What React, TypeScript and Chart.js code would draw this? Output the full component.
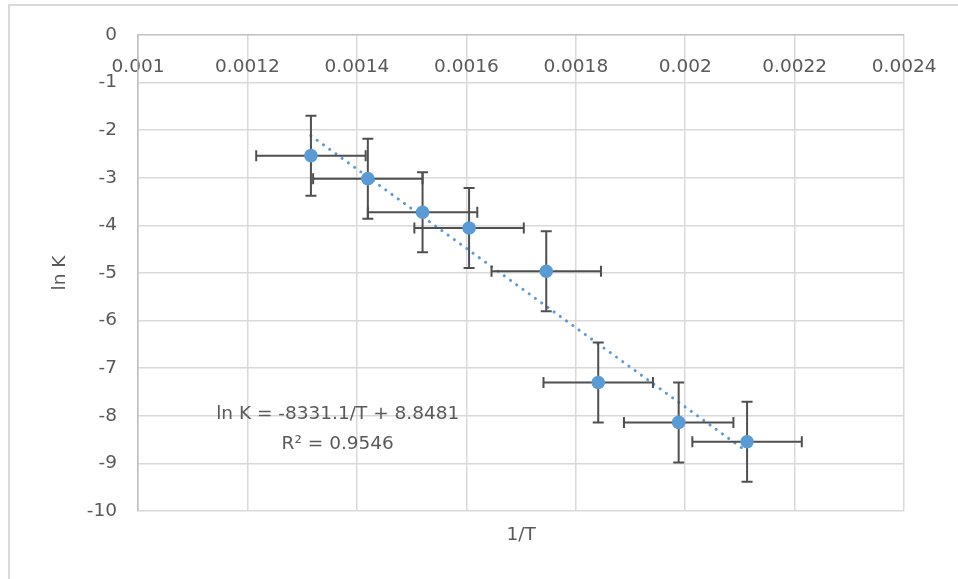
import React, { useEffect, useRef } from "react";
import { Chart, registerables } from "chart.js";

Chart.register(...registerables);

// ---- data ----
const invT = [0.001316, 0.00142, 0.00152, 0.001605, 0.001746, 0.001841, 0.001988, 0.002113];
const lnK = [-2.535, -3.018, -3.725, -4.054, -4.963, -7.3, -8.139, -8.545];
const invTErr = [0.0001, 0.0001, 0.0001, 0.0001, 0.0001, 0.0001, 0.0001, 0.0001];
const lnKErr = [0.84, 0.84, 0.84, 0.84, 0.84, 0.84, 0.84, 0.84];
const xTickValues = [0.001, 0.0012, 0.0014, 0.0016, 0.0018, 0.002, 0.0022, 0.0024];
const xTickLabels = ["0.001", "0.0012", "0.0014", "0.0016", "0.0018", "0.002", "0.0022", "0.0024"];
const trendSlope = -8331.1;
const trendIntercept = 8.8481;
const equationLines = ["ln K = -8331.1/T + 8.8481", "R\u00B2 = 0.9546"];

const FONT = "'DejaVu Sans', sans-serif";
const FS = 18.5;
const TEXT = "#595959";
const GRID = "#d9d9d9";
const AXIS = "#bfbfbf";

const trendX0 = Math.min(...invT);
const trendX1 = Math.max(...invT);
const trendData = [
  { x: trendX0, y: trendSlope * trendX0 + trendIntercept },
  { x: trendX1, y: trendSlope * trendX1 + trendIntercept },
];

const errorBarPlugin = {
  id: "errorBars",
  beforeDatasetDraw(chart: any, args: any) {
    if (args.index !== 0) return;
    const { ctx } = chart;
    const xs = chart.scales.x;
    const ys = chart.scales.y;
    const cap = 5.5;
    ctx.save();
    ctx.strokeStyle = "#4f4f4f";
    ctx.lineWidth = 2;
    for (let i = 0; i < invT.length; i++) {
      const px = xs.getPixelForValue(invT[i]);
      const py = ys.getPixelForValue(lnK[i]);
      const xl = xs.getPixelForValue(invT[i] - invTErr[i]);
      const xr = xs.getPixelForValue(invT[i] + invTErr[i]);
      const yt = ys.getPixelForValue(lnK[i] + lnKErr[i]);
      const yb = ys.getPixelForValue(lnK[i] - lnKErr[i]);
      ctx.beginPath();
      ctx.moveTo(xl, py);
      ctx.lineTo(xr, py);
      ctx.moveTo(xl, py - cap);
      ctx.lineTo(xl, py + cap);
      ctx.moveTo(xr, py - cap);
      ctx.lineTo(xr, py + cap);
      ctx.moveTo(px, yt);
      ctx.lineTo(px, yb);
      ctx.moveTo(px - cap, yt);
      ctx.lineTo(px + cap, yt);
      ctx.moveTo(px - cap, yb);
      ctx.lineTo(px + cap, yb);
      ctx.stroke();
    }
    ctx.restore();
  },
};

const equationPlugin = {
  id: "equation",
  afterDraw(chart: any) {
    const { ctx } = chart;
    const xs = chart.scales.x;
    const ys = chart.scales.y;
    const cx = xs.getPixelForValue(0.001365);
    const y1 = ys.getPixelForValue(-7.96);
    const y2 = ys.getPixelForValue(-8.59);
    ctx.save();
    ctx.font = `${FS}px ${FONT}`;
    ctx.fillStyle = TEXT;
    ctx.textAlign = "center";
    ctx.textBaseline = "middle";
    ctx.fillText(equationLines[0], cx, y1);
    ctx.fillText(equationLines[1], cx, y2);
    ctx.restore();
  },
};

export default function App() {
  const ref = useRef<HTMLCanvasElement>(null);

  useEffect(() => {
    if (!ref.current) return;
    const chart = new Chart(ref.current, {
      type: "scatter",
      data: {
        datasets: [
          {
            label: "ln K",
            data: invT.map((x, i) => ({ x, y: lnK[i] })),
            backgroundColor: "#5B9BD5",
            borderColor: "#5B9BD5",
            borderWidth: 0,
            pointRadius: 6.8,
            showLine: false,
          },
          {
            label: "trend",
            type: "line",
            data: trendData,
            borderColor: "#5B9BD5",
            borderWidth: 3,
            borderDash: [0.1, 7.6],
            borderCapStyle: "round",
            pointRadius: 0,
            fill: false,
          } as any,
        ],
      },
      plugins: [errorBarPlugin, equationPlugin],
      options: {
        responsive: false,
        animation: false,
        events: [],
        layout: { padding: { left: 0, top: 35, right: 50, bottom: 0 } },
        plugins: { legend: { display: false }, tooltip: { enabled: false } },
        font: { family: FONT, size: FS },
        scales: {
          x: {
            type: "linear",
            position: "bottom",
            min: 0.001,
            max: 0.0024,
            afterBuildTicks: (s: any) => {
              s.ticks = xTickValues.map((v) => ({ value: v }));
            },
            afterFit: (s: any) => {
              s.height = 68;
            },
            ticks: { display: false },
            grid: { color: GRID, lineWidth: 1.5, drawTicks: false },
            border: { display: false },
            title: {
              display: true,
              text: "1/T",
              color: TEXT,
              font: { family: FONT, size: FS },
              padding: { top: 0, bottom: 33 },
            },
          },
          xTop: {
            type: "linear",
            position: { y: 0 } as any,
            min: 0.001,
            max: 0.0024,
            afterBuildTicks: (s: any) => {
              s.ticks = xTickValues.map((v) => ({ value: v }));
            },
            ticks: {
              color: TEXT,
              font: { family: FONT, size: FS },
              padding: 21.5,
              maxRotation: 0,
              autoSkip: false,
              callback: (_v: any, i: number) => xTickLabels[i],
            },
            grid: { display: false, drawTicks: false },
            border: { display: false },
          },
          y: {
            type: "linear",
            position: "left",
            min: -10,
            max: 0,
            ticks: {
              stepSize: 1,
              color: TEXT,
              font: { family: FONT, size: FS },
              padding: 21,
            },
            afterFit: (s: any) => {
              s.width = 138;
            },
            grid: {
              color: (c: any) => (c.tick && c.tick.value === 0 ? AXIS : GRID),
              lineWidth: 1.5,
              drawTicks: false,
            },
            border: { display: true, color: AXIS, width: 1.5 },
            title: {
              display: true,
              text: "ln K",
              color: TEXT,
              font: { family: FONT, size: FS },
              padding: { top: 49, bottom: 0 },
            },
          },
        },
      } as any,
    });
    return () => chart.destroy();
  }, []);

  return (
    <div
      style={{
        position: "fixed",
        left: 0,
        top: 0,
        width: 958,
        height: 579,
        overflow: "hidden",
        background: "#fff",
      }}
    >
      <div
        style={{
          position: "absolute",
          left: 7.5,
          top: 4,
          width: 1200,
          height: 1200,
          border: "2px solid #d9d9d9",
        }}
      />
      <canvas
        ref={ref}
        width={958}
        height={579}
        style={{ position: "absolute", left: 0, top: 0, display: "block" }}
      />
    </div>
  );
}
